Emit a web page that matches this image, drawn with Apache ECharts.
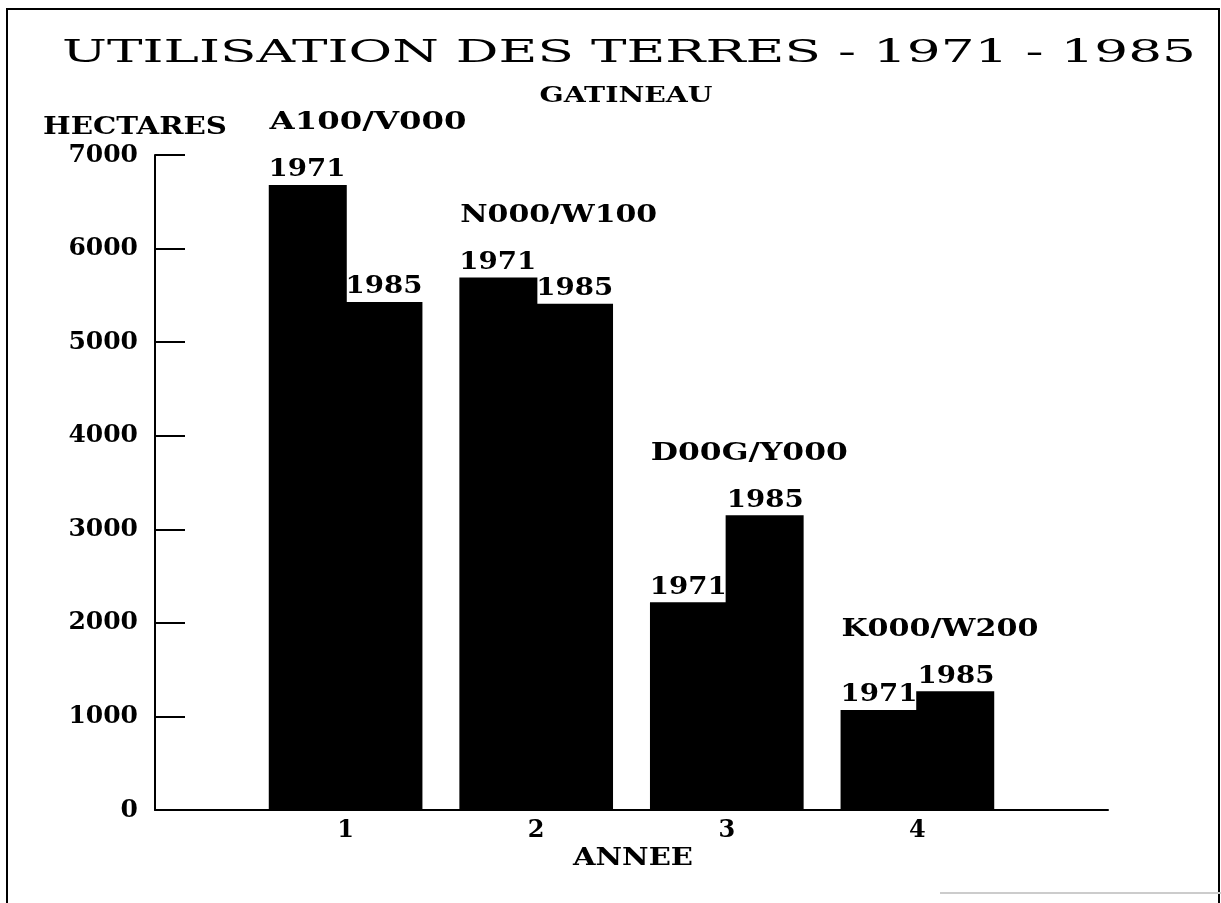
<!DOCTYPE html>
<html><head><meta charset="utf-8">
<script src="https://cdn.jsdelivr.net/npm/echarts@6/dist/echarts.min.js"></script>
<style>html,body{margin:0;padding:0;background:#fff}#c{width:1221px;height:903px}</style>
</head><body><div id="c"></div>
<script>
// ---- data ----
const categories = ['', '1', '2', '3', '4', ''];
const groupNames = ['A100/V000', 'N000/W100', 'D00G/Y000', 'K000/W200'];
const yearLabels = ['1971', '1985'];
const values1971 = [6680, 5690, 2220, 1070];
const values1985 = [5430, 5410, 3150, 1270];
const titleText = 'UTILISATION DES TERRES - 1971 - 1985';
const subtitleText = 'GATINEAU';
const yName = 'HECTARES';
const xName = 'ANNEE';

// ---- helpers ----
const BAR_W = 78;
const mctx = document.createElement('canvas').getContext('2d');
function scaleFor(text, font, target) { mctx.font = font; return target / mctx.measureText(text).width; }
const BOLD = 'bold 25px "DejaVu Serif"';
function txt(x, y, text, font, target, align) {
  const s = scaleFor(text, font, target);
  return { type: 'text', x: x, y: y, scaleX: s, silent: true,
    style: { text: text, font: font, fill: '#000', align: align, textAlign: align,
             verticalAlign: 'middle', textVerticalAlign: 'middle' } };
}

const valueLabelData = [];
values1971.forEach((v, i) => valueLabelData.push([i + 1, v, 0]));
values1985.forEach((v, i) => valueLabelData.push([i + 1, v, 1]));
const groupLabelData = values1971.map((v, i) => [i + 1, Math.max(v, values1985[i]), i]);

const chart = echarts.init(document.getElementById('c'), null, { renderer: 'canvas' });
chart.setOption({
  animation: false,
  backgroundColor: '#fff',
  grid: { left: 155, right: 113, top: 155, bottom: 93 },
  xAxis: {
    type: 'category', data: categories, boundaryGap: false,
    axisLine: { lineStyle: { color: '#000', width: 2 } },
    axisTick: { show: false },
    axisLabel: { color: '#000', fontFamily: 'DejaVu Serif', fontWeight: 'bold', fontSize: 24, margin: 9 },
    splitLine: { show: false }
  },
  yAxis: {
    type: 'value', min: 0, max: 7000, interval: 1000,
    axisLine: { show: true, lineStyle: { color: '#000', width: 2 } },
    axisTick: { show: true, inside: true, length: 30, lineStyle: { color: '#000', width: 2 } },
    axisLabel: { color: '#000', fontFamily: 'DejaVu Serif', fontWeight: 'bold', fontSize: 25, margin: 17,
                 formatter: function (v) { return String(v); } },
    splitLine: { show: false }
  },
  series: [
    { type: 'bar', name: yearLabels[0], data: values1971.map((v, i) => [i + 1, v]),
      barWidth: BAR_W, barGap: '-3%', itemStyle: { color: '#000' } },
    { type: 'bar', name: yearLabels[1], data: values1985.map((v, i) => [i + 1, v]),
      barWidth: BAR_W, barGap: '-3%', itemStyle: { color: '#000' } },
    { type: 'custom', clip: false, silent: true, data: valueLabelData,
      renderItem: function (params, api) {
        const p = api.coord([api.value(0), api.value(1)]);
        const j = api.value(2);
        const dx = (j === 0 ? -1 : 1) * (BAR_W - 1) / 2;
        return txt(p[0] + dx, p[1] - 15, yearLabels[j], BOLD, 77, 'center');
      } },
    { type: 'custom', clip: false, silent: true, data: groupLabelData,
      renderItem: function (params, api) {
        const p = api.coord([api.value(0), api.value(1)]);
        const name = groupNames[api.value(2)];
        return txt(p[0] - BAR_W + 2, p[1] - 62, name, BOLD, 197, 'left');
      } }
  ],
  graphic: [
    { type: 'rect', silent: true, shape: { x: 7, y: 9, width: 1212, height: 900 },
      style: { fill: 'none', stroke: '#000', lineWidth: 2 } },
    { type: 'line', silent: true, shape: { x1: 940, y1: 893, x2: 1221, y2: 893 },
      style: { stroke: '#cccccc', lineWidth: 2 } },
    txt(62, 54, titleText, 'normal 32px "DejaVu Serif"', 1134, 'left'),
    txt(626, 96, subtitleText, 'bold 22px "DejaVu Serif"', 173, 'center'),
    txt(43, 127, yName, 'bold 25px "DejaVu Serif"', 184, 'left'),
    txt(633, 859, xName, 'bold 24px "DejaVu Serif"', 120, 'center')
  ]
});
</script>
</body></html>
